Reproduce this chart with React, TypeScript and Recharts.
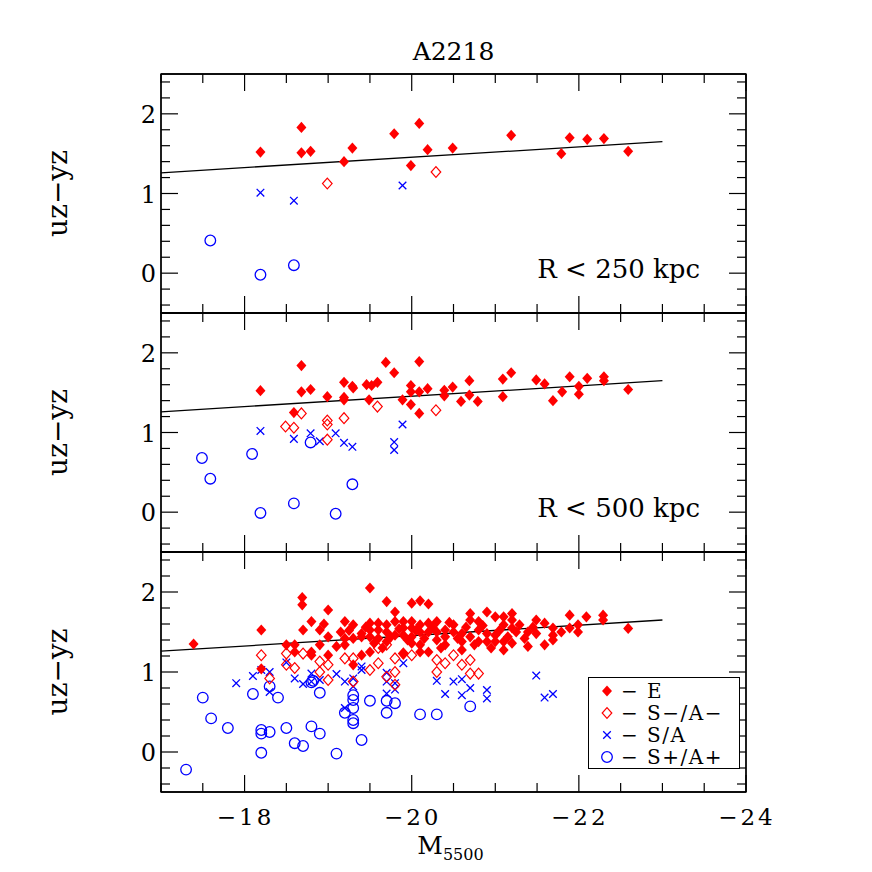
import { ScatterChart, Scatter, XAxis, YAxis, ReferenceLine, ReferenceArea } from "recharts";

type Pair = [number, number];

// axis ticks (minor every 0.5 mag / 0.2 colour, major at even mag / integer colour)
const X_TICKS = [-17, -17.5, -18, -18.5, -19, -19.5, -20, -20.5, -21, -21.5, -22, -22.5, -23, -23.5, -24];
const Y_TICKS = [-0.4, -0.2, 0, 0.2, 0.4, 0.6, 0.8, 1, 1.2, 1.4, 1.6, 1.8, 2, 2.2, 2.4];
const FIT_LINE = [
  { x: -17, y: 1.26 },
  { x: -23, y: 1.65 },
];

// R < 250 kpc
const P1_E: Pair[] = [
  [-18.19, 1.52], [-18.68, 1.83], [-18.68, 1.51], [-18.79, 1.53], [-19.19, 1.4], [-19.29, 1.57],
  [-19.79, 1.75], [-19.99, 1.35], [-20.09, 1.88], [-20.19, 1.55], [-20.49, 1.57], [-21.19, 1.73],
  [-21.79, 1.5], [-21.89, 1.7], [-22.1, 1.68], [-22.3, 1.69], [-22.59, 1.53],
];
const P1_SM: Pair[] = [[-18.99, 1.125], [-20.29, 1.27]];
const P1_SA: Pair[] = [[-18.19, 1.01], [-18.59, 0.91], [-19.89, 1.1]];
const P1_SP: Pair[] = [[-17.59, 0.41], [-18.19, -0.02], [-18.59, 0.1]];

// R < 500 kpc
const P2_E: Pair[] = [
  [-18.19, 1.525], [-18.68, 1.84], [-18.68, 1.51], [-18.79, 1.54], [-18.59, 1.25], [-18.99, 1.45],
  [-19.19, 1.63], [-19.19, 1.44], [-19.19, 1.41], [-19.29, 1.58], [-19.3, 1.56], [-19.46, 1.6],
  [-19.52, 1.59], [-19.49, 1.41], [-19.59, 1.63], [-19.69, 1.88], [-19.79, 1.75], [-19.89, 1.41],
  [-19.99, 1.59], [-19.99, 1.51], [-19.99, 1.35], [-20.09, 1.89], [-20.09, 1.51], [-20.09, 1.24],
  [-20.19, 1.55], [-20.39, 1.53], [-20.39, 1.46], [-20.49, 1.57], [-20.59, 1.39], [-20.69, 1.65],
  [-20.69, 1.47], [-20.79, 1.39], [-21.09, 1.67], [-21.09, 1.45], [-21.19, 1.75], [-21.49, 1.66],
  [-21.59, 1.61], [-21.69, 1.4], [-21.8, 1.51], [-21.89, 1.7], [-22.0, 1.58], [-22.0, 1.48],
  [-22.1, 1.68], [-22.3, 1.7], [-22.3, 1.65], [-22.59, 1.54],
];
const P2_SM: Pair[] = [
  [-18.49, 1.075], [-18.59, 1.06], [-18.68, 1.24], [-18.99, 1.15], [-18.99, 1.1], [-18.99, 0.91],
  [-19.19, 1.18], [-19.59, 1.325], [-20.29, 1.28],
];
const P2_SA: Pair[] = [
  [-18.19, 1.02], [-18.59, 0.92], [-18.79, 0.99], [-18.9, 0.89], [-19.09, 0.99], [-19.19, 0.87],
  [-19.29, 0.82], [-19.79, 0.88], [-19.79, 0.78], [-19.89, 1.1],
];
const P2_SP: Pair[] = [
  [-17.49, 0.68], [-17.59, 0.42], [-18.09, 0.73], [-18.19, -0.01], [-18.59, 0.11], [-18.79, 0.875],
  [-19.09, -0.02], [-19.29, 0.35],
];

// all galaxies
const P3_E: Pair[] = [
  [-17.39, 1.35], [-18.2, 1.525], [-18.2, 1.04], [-18.5, 1.34], [-18.6, 1.34], [-18.6, 1.25],
  [-18.69, 1.93], [-18.69, 1.84], [-18.7, 1.525], [-18.8, 1.63], [-18.8, 1.25], [-18.8, 1.21],
  [-18.9, 1.525], [-18.9, 1.34], [-19.0, 1.775], [-19.0, 1.44], [-19.0, 1.21], [-19.1, 1.32],
  [-19.2, 1.63], [-19.2, 1.42], [-19.2, 1.34], [-19.3, 1.59], [-19.3, 1.42], [-19.3, 1.09],
  [-19.4, 1.48], [-19.4, 1.44], [-19.4, 1.21], [-19.5, 2.05], [-19.5, 1.61], [-19.5, 1.525],
  [-19.5, 1.44], [-19.5, 1.25], [-19.6, 1.61], [-19.6, 1.525], [-19.6, 1.42], [-19.7, 1.88],
  [-19.7, 1.59], [-19.7, 1.5], [-19.7, 1.38], [-19.8, 1.75], [-19.8, 1.63], [-19.8, 1.46],
  [-19.9, 1.63], [-19.9, 1.55], [-19.9, 1.46], [-19.9, 1.23], [-20.0, 1.86], [-20.0, 1.63],
  [-20.0, 1.55], [-20.0, 1.44], [-20.0, 1.36], [-20.1, 1.89], [-20.1, 1.59], [-20.1, 1.5],
  [-20.1, 1.34], [-20.1, 1.25], [-20.2, 1.85], [-20.2, 1.61], [-20.2, 1.5], [-20.2, 1.25],
  [-20.3, 1.63], [-20.3, 1.5], [-20.3, 1.4], [-20.4, 1.525], [-20.4, 1.44], [-20.4, 1.34],
  [-20.5, 1.59], [-20.5, 1.5], [-20.6, 1.48], [-20.6, 1.38], [-20.6, 1.275], [-20.7, 1.73],
  [-20.7, 1.65], [-20.7, 1.44], [-20.8, 1.63], [-20.8, 1.525], [-20.8, 1.38], [-20.9, 1.75],
  [-20.9, 1.48], [-20.9, 1.38], [-21.0, 1.69], [-21.0, 1.46], [-21.0, 1.38], [-21.1, 1.69],
  [-21.1, 1.59], [-21.1, 1.38], [-21.1, 1.275], [-21.2, 1.73], [-21.2, 1.65], [-21.2, 1.55],
  [-21.2, 1.36], [-21.29, 1.59], [-21.39, 1.5], [-21.39, 1.32], [-21.49, 1.65], [-21.49, 1.48],
  [-21.59, 1.61], [-21.59, 1.34], [-21.69, 1.55], [-21.69, 1.46], [-21.69, 1.4], [-21.79, 1.5],
  [-21.89, 1.71], [-21.89, 1.55], [-21.99, 1.59], [-21.99, 1.5], [-22.09, 1.69], [-22.29, 1.71],
  [-22.29, 1.65], [-22.59, 1.545],
  [-19.25, 1.52], [-19.45, 1.56], [-19.55, 1.36], [-19.65, 1.3], [-19.75, 1.44], [-19.85, 1.54],
  [-19.95, 1.4], [-20.05, 1.52], [-20.15, 1.42], [-20.25, 1.56], [-20.35, 1.3], [-20.45, 1.62],
  [-20.55, 1.42], [-20.65, 1.56], [-20.75, 1.34], [-20.85, 1.58], [-20.95, 1.3], [-21.05, 1.52],
  [-21.15, 1.44], [-21.25, 1.5], [-21.35, 1.42], [-21.45, 1.56], [-18.95, 1.6], [-19.15, 1.5],
];
const P3_SM: Pair[] = [
  [-18.2, 1.21], [-18.3, 0.92], [-18.5, 1.23], [-18.5, 1.09], [-18.6, 1.05], [-18.7, 1.23],
  [-18.9, 1.13], [-18.9, 1.0], [-19.0, 1.09], [-19.0, 0.9], [-19.2, 1.17], [-19.3, 1.17],
  [-19.3, 0.88], [-19.5, 1.025], [-19.6, 1.3], [-19.6, 1.11], [-19.7, 1.34], [-19.7, 0.94],
  [-19.8, 1.17], [-19.8, 1.0], [-19.8, 0.84], [-19.9, 1.23], [-20.0, 1.21], [-20.3, 1.15],
  [-20.3, 1.0], [-20.4, 1.11], [-20.5, 1.21], [-20.6, 1.09], [-20.7, 1.15], [-20.7, 0.98],
  [-20.8, 0.98],
];
const P3_SA: Pair[] = [
  [-17.9, 0.86], [-18.1, 0.95], [-18.2, 1.025], [-18.3, 1.0], [-18.3, 0.75], [-18.5, 1.12],
  [-18.6, 0.92], [-18.7, 0.85], [-18.8, 0.98], [-18.8, 0.88], [-18.9, 0.9], [-19.1, 0.975],
  [-19.2, 0.88], [-19.2, 0.55], [-19.3, 0.92], [-19.3, 0.82], [-19.4, 1.07], [-19.4, 1.025],
  [-19.7, 0.99], [-19.7, 0.88], [-19.7, 0.73], [-19.8, 0.86], [-19.8, 0.78], [-19.9, 1.11],
  [-20.3, 0.89], [-20.4, 0.725], [-20.5, 0.88], [-20.6, 0.91], [-20.6, 0.71], [-20.7, 0.8],
  [-20.9, 0.775], [-20.9, 0.67], [-21.49, 0.955], [-21.59, 0.68], [-21.69, 0.725],
];
const P3_SP: Pair[] = [
  [-17.3, -0.22], [-17.5, 0.68], [-17.6, 0.42], [-17.8, 0.3], [-18.1, 0.725], [-18.2, 0.275],
  [-18.2, 0.23], [-18.2, -0.01], [-18.3, 0.82], [-18.3, 0.25], [-18.4, 0.68], [-18.5, 0.3],
  [-18.6, 0.11], [-18.7, 0.075], [-18.8, 0.32], [-18.8, 0.87], [-18.82, 0.89], [-18.9, 0.74],
  [-18.9, 0.23], [-19.1, -0.02], [-19.2, 0.49], [-19.3, 0.71], [-19.3, 0.65], [-19.3, 0.55],
  [-19.3, 0.4], [-19.3, 0.36], [-19.4, 0.15], [-19.5, 0.64], [-19.7, 0.64], [-19.7, 0.49],
  [-19.8, 0.61], [-20.1, 0.47], [-20.3, 0.47], [-20.7, 0.57],
];

const LEGEND_LABELS = ["− E", "− S−/A−", "− S/A", "− S+/A+"];

const FONT = "'DejaVu Serif', serif";
const RED = "#ff0000";
const BLUE = "#0000ff";
const INK = "#000";

const toPts = (arr: Pair[]) => arr.map(([x, y]) => ({ x, y }));
const majorX = (v: number) => Math.abs(v / 2 - Math.round(v / 2)) < 1e-6;
const majorY = (v: number) => Math.abs(v - Math.round(v)) < 1e-6;
const fmt = (v: number) => (v < 0 ? `−${Math.abs(v)}` : String(v));

function FilledDiamond({ cx, cy }: any) {
  return <path d={`M${cx},${cy - 5.6}L${cx + 5},${cy}L${cx},${cy + 5.6}L${cx - 5},${cy}Z`} fill={RED} />;
}
function OpenDiamond({ cx, cy }: any) {
  return (
    <path
      d={`M${cx},${cy - 5.4}L${cx + 4.8},${cy}L${cx},${cy + 5.4}L${cx - 4.8},${cy}Z`}
      fill="none"
      stroke={RED}
      strokeWidth={1.2}
    />
  );
}
function Cross({ cx, cy }: any) {
  const s = 3.8;
  return (
    <path
      d={`M${cx - s},${cy - s}L${cx + s},${cy + s}M${cx - s},${cy + s}L${cx + s},${cy - s}`}
      stroke={BLUE}
      strokeWidth={1.3}
    />
  );
}
function Ring({ cx, cy }: any) {
  return <circle cx={cx} cy={cy} r={5.3} fill="none" stroke={BLUE} strokeWidth={1.3} />;
}

function BottomTick(props: any, showLabel: boolean) {
  const { x, y, payload } = props;
  const v = payload.value;
  const len = majorX(v) ? 17 : 9;
  return (
    <g>
      <line x1={x} x2={x} y1={y} y2={y - len} stroke={INK} strokeWidth={1.2} />
      {showLabel && majorX(v) ? (
        <text x={x + 1} y={y + 33} textAnchor="middle" fontFamily={FONT} fontSize={23} letterSpacing={3} fill={INK}>
          {fmt(v)}
        </text>
      ) : null}
    </g>
  );
}
function TopTick(props: any) {
  const { x, y, payload } = props;
  const len = majorX(payload.value) ? 17 : 9;
  return <line x1={x} x2={x} y1={y} y2={y + len} stroke={INK} strokeWidth={1.2} />;
}
function LeftTick(props: any) {
  const { x, y, payload } = props;
  const v = payload.value;
  const len = majorY(v) ? 17 : 9;
  return (
    <g>
      <line x1={x} x2={x + len} y1={y} y2={y} stroke={INK} strokeWidth={1.2} />
      {majorY(v) ? (
        <text x={x - 5} y={y + 9} textAnchor="end" fontFamily={FONT} fontSize={24} fill={INK}>
          {fmt(v)}
        </text>
      ) : null}
    </g>
  );
}
function RightTick(props: any) {
  const { x, y, payload } = props;
  const len = majorY(payload.value) ? 17 : 9;
  return <line x1={x} x2={x - len} y1={y} y2={y} stroke={INK} strokeWidth={1.2} />;
}

interface PanelProps {
  top: number;
  height: number;
  topH: number;
  bottomH: number;
  e: Pair[];
  sm: Pair[];
  sa: Pair[];
  sp: Pair[];
  note?: string;
  title?: string;
  xLabels?: boolean;
}

const axisLine = { stroke: INK, strokeWidth: 1.3 };

function Panel({ top, height, topH, bottomH, e, sm, sa, sp, note, title, xLabels }: PanelProps) {
  return (
    <div style={{ position: "absolute", left: 0, top, width: 872, height }}>
      <ScatterChart width={872} height={height} margin={{ top: 0, right: 0, bottom: 0, left: 0 }}>
        <XAxis
          xAxisId={0}
          dataKey="x"
          type="number"
          domain={[-24, -17]}
          reversed
          allowDataOverflow
          ticks={X_TICKS}
          interval={0}
          tickSize={0}
          tickMargin={0}
          tickLine={false}
          axisLine={axisLine}
          height={bottomH}
          tick={(p: any) => BottomTick(p, !!xLabels)}
          label={
            xLabels
              ? (p: any) => {
                  const vb = p.viewBox;
                  return (
                    <text x={vb.x + vb.width / 2 - 3} y={vb.y + 62} textAnchor="middle" fontFamily={FONT} fill={INK}>
                      <tspan fontSize={25}>M</tspan>
                      <tspan fontSize={16} dy={6}>5500</tspan>
                    </text>
                  );
                }
              : undefined
          }
        />
        <XAxis
          xAxisId="t"
          dataKey="x"
          type="number"
          orientation="top"
          domain={[-24, -17]}
          reversed
          allowDataOverflow
          ticks={X_TICKS}
          interval={0}
          tickSize={0}
          tickMargin={0}
          tickLine={false}
          axisLine={axisLine}
          height={topH}
          tick={TopTick}
          label={
            title
              ? (p: any) => {
                  const vb = p.viewBox;
                  return (
                    <text x={vb.x + vb.width / 2} y={60} textAnchor="middle" fontFamily={FONT} fontSize={25} fill={INK}>
                      {title}
                    </text>
                  );
                }
              : undefined
          }
        />
        <YAxis
          yAxisId={0}
          dataKey="y"
          type="number"
          domain={[-0.5, 2.5]}
          allowDataOverflow
          ticks={Y_TICKS}
          interval={0}
          tickSize={0}
          tickMargin={0}
          tickLine={false}
          axisLine={axisLine}
          width={161}
          tick={LeftTick}
          label={(p: any) => {
            const vb = p.viewBox;
            return (
              <text
                transform={`translate(67, ${vb.y + vb.height / 2}) rotate(-90)`}
                textAnchor="middle"
                fontFamily={FONT}
                fontSize={28}
                fill={INK}
              >
                uz−yz
              </text>
            );
          }}
        />
        <YAxis
          yAxisId="r"
          dataKey="y"
          type="number"
          orientation="right"
          domain={[-0.5, 2.5]}
          allowDataOverflow
          ticks={Y_TICKS}
          interval={0}
          tickSize={0}
          tickMargin={0}
          tickLine={false}
          axisLine={axisLine}
          width={126}
          tick={RightTick}
        />
        <ReferenceArea x1={-17} x2={-24} y1={-0.5} y2={2.5} fill="none" stroke={INK} strokeWidth={1.3} ifOverflow="visible" />
        <ReferenceLine segment={FIT_LINE} stroke={INK} strokeWidth={1.3} ifOverflow="visible" />
        {note ? (
          <ReferenceLine
            y={0.05}
            stroke="none"
            label={{
              value: note,
              position: "insideRight",
              offset: 46,
              fontFamily: FONT,
              fontSize: 26,
              fill: INK,
            }}
          />
        ) : null}
        <Scatter data={toPts(sp)} shape={Ring} isAnimationActive={false} />
        <Scatter data={toPts(sa)} shape={Cross} isAnimationActive={false} />
        <Scatter data={toPts(sm)} shape={OpenDiamond} isAnimationActive={false} />
        <Scatter data={toPts(e)} shape={FilledDiamond} isAnimationActive={false} />
      </ScatterChart>
    </div>
  );
}

const LEGEND_SHAPES = [FilledDiamond, OpenDiamond, Cross, Ring];

function LegendBox() {
  return (
    <div
      style={{
        position: "absolute",
        left: 588,
        top: 677,
        width: 152,
        height: 92,
        boxSizing: "border-box",
        border: "1.5px solid #000",
        background: "#fff",
        paddingTop: 2,
      }}
    >
      {LEGEND_LABELS.map((label, i) => {
        const Shape = LEGEND_SHAPES[i];
        return (
          <div key={label} style={{ height: 22, display: "flex", alignItems: "center" }}>
            <svg width={16} height={16} style={{ marginLeft: 10, marginRight: 6 }}>
              <Shape cx={8} cy={8} />
            </svg>
            <span style={{ fontFamily: FONT, fontSize: 20, letterSpacing: 1.5, color: INK, whiteSpace: "nowrap" }}>
              {label}
            </span>
          </div>
        );
      })}
    </div>
  );
}

export default function App() {
  return (
    <div style={{ position: "absolute", left: 0, top: 0, width: 872, height: 872, background: "#fff" }}>
      <Panel top={0} height={314} topH={74} bottomH={1} e={P1_E} sm={P1_SM} sa={P1_SA} sp={P1_SP} note="R < 250 kpc" title="A2218" />
      <Panel top={312} height={241} topH={1} bottomH={1} e={P2_E} sm={P2_SM} sa={P2_SA} sp={P2_SP} note="R < 500 kpc" />
      <Panel top={551} height={321} topH={1} bottomH={80} e={P3_E} sm={P3_SM} sa={P3_SA} sp={P3_SP} xLabels />
      <LegendBox />
    </div>
  );
}
